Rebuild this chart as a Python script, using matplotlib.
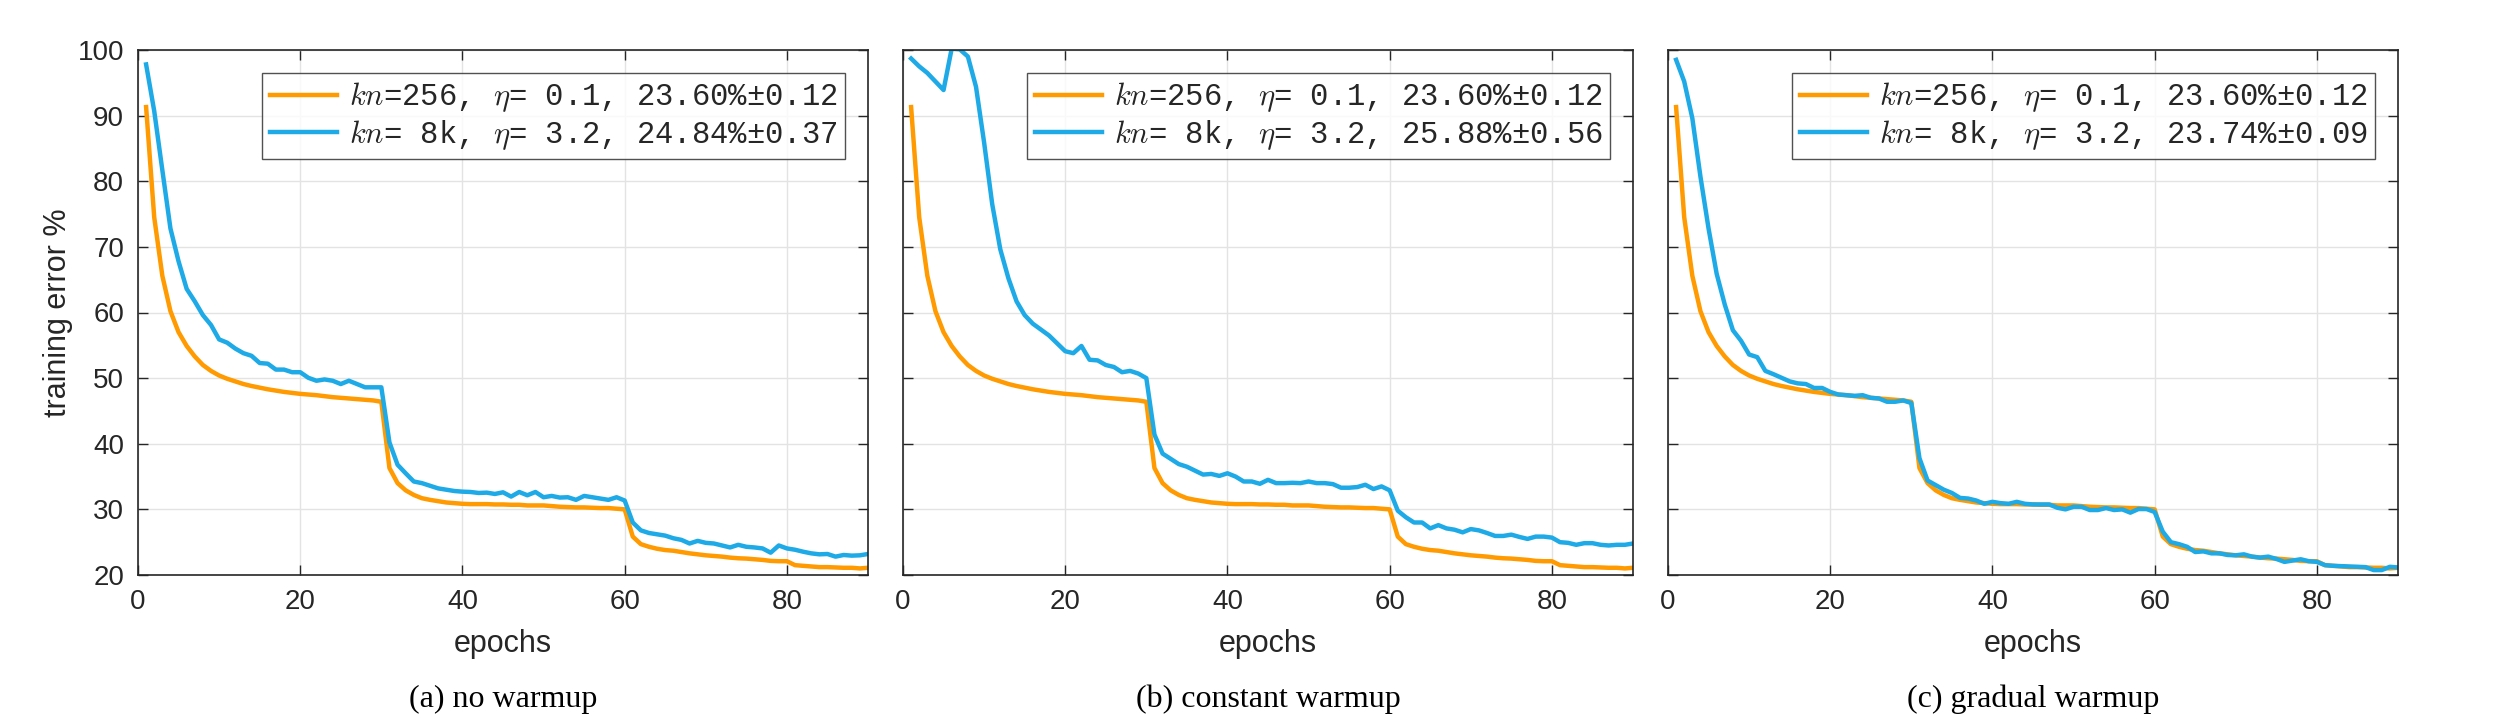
import matplotlib
matplotlib.use("Agg")
import matplotlib.pyplot as plt
import numpy as np

epochs = list(range(1, 91))

err_kn256 = [91.3, 74.5, 65.6, 60.2, 57.0, 54.9, 53.3, 52.0, 51.1, 50.4,
             49.9, 49.5, 49.1, 48.8, 48.55, 48.3, 48.1, 47.9, 47.75, 47.6,
             47.5, 47.4, 47.25, 47.1, 47.0, 46.9, 46.8, 46.7, 46.6, 46.4,
             36.3, 34.0, 32.9, 32.2, 31.7, 31.45, 31.25, 31.05, 30.95, 30.85,
             30.8, 30.8, 30.8, 30.75, 30.75, 30.7, 30.7, 30.6, 30.6, 30.6,
             30.5, 30.4, 30.35, 30.3, 30.3, 30.25, 30.2, 30.2, 30.1, 30.0,
             25.85, 24.7, 24.3, 24.0, 23.8, 23.7, 23.5, 23.3, 23.15, 23.0,
             22.9, 22.8, 22.65, 22.55, 22.5, 22.4, 22.3, 22.15, 22.1, 22.1,
             21.5, 21.4, 21.3, 21.2, 21.2, 21.15, 21.1, 21.1, 21.0, 21.1]

err_8k_nowarm = [97.8, 90.7, 81.7, 72.8, 67.8, 63.6, 61.7, 59.6, 58.1, 55.9,
                 55.4, 54.5, 53.8, 53.4, 52.3, 52.2, 51.3, 51.3, 50.9, 50.9,
                 50.05, 49.6, 49.8, 49.6, 49.1, 49.6, 49.1, 48.6, 48.6, 48.6,
                 40.2, 36.8, 35.5, 34.25, 34.0, 33.6, 33.2, 33.0, 32.8, 32.7,
                 32.65, 32.5, 32.55, 32.35, 32.6, 31.95, 32.65, 32.15, 32.65, 31.85,
                 32.05, 31.8, 31.85, 31.45, 32.05, 31.85, 31.65, 31.45, 31.85, 31.35,
                 28.0, 26.8, 26.4, 26.2, 26.0, 25.6, 25.35, 24.8, 25.2, 24.9,
                 24.8, 24.5, 24.2, 24.6, 24.3, 24.2, 24.05, 23.4, 24.5, 24.05,
                 23.85, 23.55, 23.3, 23.15, 23.2, 22.8, 23.05, 22.95, 23.0, 23.2]

err_8k_const = [98.7, 97.5, 96.5, 95.2, 93.9, 100.2, 100.1, 99.0, 94.4, 85.9,
                76.5, 69.6, 65.2, 61.7, 59.6, 58.3, 57.4, 56.5, 55.3, 54.1,
                53.8, 54.9, 52.8, 52.7, 52.0, 51.7, 50.9, 51.1, 50.7, 50.0,
                41.4, 38.5, 37.7, 36.9, 36.5, 35.9, 35.3, 35.4, 35.1, 35.5,
                35.0, 34.25, 34.25, 33.9, 34.5, 34.0, 34.0, 34.05, 34.0, 34.25,
                34.0, 34.0, 33.85, 33.3, 33.3, 33.4, 33.75, 33.1, 33.5, 32.9,
                29.8, 28.8, 28.0, 28.0, 27.1, 27.6, 27.1, 26.9, 26.5, 27.0,
                26.8, 26.4, 25.95, 25.95, 26.15, 25.8, 25.5, 25.85, 25.85, 25.7,
                25.0, 24.9, 24.6, 24.85, 24.85, 24.6, 24.5, 24.6, 24.6, 24.8]

err_8k_grad = [98.5, 95.2, 89.6, 80.7, 72.8, 65.9, 61.2, 57.3, 55.7, 53.6,
               53.2, 51.1, 50.6, 50.05, 49.5, 49.2, 49.1, 48.5, 48.5, 47.9,
               47.5, 47.4, 47.3, 47.4, 47.0, 46.9, 46.4, 46.4, 46.6, 46.2,
               37.8, 34.4, 33.7, 33.0, 32.5, 31.75, 31.65, 31.35, 30.85, 31.15,
               30.95, 30.85, 31.15, 30.85, 30.75, 30.75, 30.75, 30.25, 30.0, 30.4,
               30.4, 29.9, 29.9, 30.2, 29.9, 30.0, 29.5, 30.05, 30.05, 29.6,
               26.6, 25.0, 24.7, 24.3, 23.5, 23.6, 23.3, 23.3, 23.05, 23.0,
               23.15, 22.8, 22.65, 22.8, 22.45, 22.0, 22.2, 22.4, 22.1, 22.0,
               21.5, 21.4, 21.35, 21.3, 21.25, 21.2, 20.75, 20.75, 21.25, 21.15]

label_256 = "$kn$=256, $\\eta$= 0.1, 23.60%\u00b10.12"
labels_8k = ["$kn$= 8k, $\\eta$= 3.2, 24.84%\u00b10.37",
             "$kn$= 8k, $\\eta$= 3.2, 25.88%\u00b10.56",
             "$kn$= 8k, $\\eta$= 3.2, 23.74%\u00b10.09"]
captions = ["(a) no warmup", "(b) constant warmup", "(c) gradual warmup"]
series_8k = [err_8k_nowarm, err_8k_const, err_8k_grad]

xticks = [0, 20, 40, 60, 80]
yticks = [20, 30, 40, 50, 60, 70, 80, 90, 100]

ORANGE = "#FF9A00"
BLUE = "#1EAAE6"
AX_COL = "#262626"

plt.rcParams["mathtext.fontset"] = "cm"
plt.rcParams["font.family"] = ["Liberation Sans", "DejaVu Sans"]

fig = plt.figure(figsize=(25.08, 7.28), dpi=100)
lefts = [138 / 2508, 903 / 2508, 1668 / 2508]
w = 730 / 2508
b = 1 - 575 / 728
h = 525 / 728

for i in range(3):
    ax = fig.add_axes([lefts[i], b, w, h])
    ax.plot(epochs, err_kn256, color=ORANGE, lw=3.2, label=label_256,
            solid_joinstyle="round")
    ax.plot(epochs, series_8k[i], color=BLUE, lw=3.2, label=labels_8k[i],
            solid_joinstyle="round")
    ax.set_xlim(0, 90)
    ax.set_ylim(20, 100)
    ax.set_xticks(xticks)
    ax.set_yticks(yticks)
    ax.grid(True, color="#E3E3E3", lw=1.0)
    ax.set_axisbelow(True)
    ax.tick_params(direction="in", length=7, width=1.0, color=AX_COL,
                   top=True, right=True, labelsize=20, labelcolor=AX_COL, pad=10)
    for sp in ax.spines.values():
        sp.set_color(AX_COL)
        sp.set_linewidth(1.2)
    if i == 0:
        ax.set_ylabel("training error %", fontsize=22, color=AX_COL, labelpad=3)
    else:
        ax.set_yticklabels([])
    ax.set_xlabel("epochs", fontsize=22, color=AX_COL, labelpad=10)
    leg = ax.legend(loc="upper right", prop={"family": "Liberation Mono", "size": 22},
                    frameon=True, fancybox=False, edgecolor=AX_COL,
                    handlelength=2.2, handletextpad=0.38, borderpad=0.25,
                    labelspacing=0.12, borderaxespad=0.75)
    leg.get_frame().set_linewidth(1.0)
    for t in leg.get_texts():
        t.set_color(AX_COL)
    fig.text(lefts[i] + w / 2, 1 - 699 / 728, captions[i], ha="center", va="center",
             fontsize=23, family="Liberation Serif", color="black")

fig.savefig("out.png", dpi=100)
